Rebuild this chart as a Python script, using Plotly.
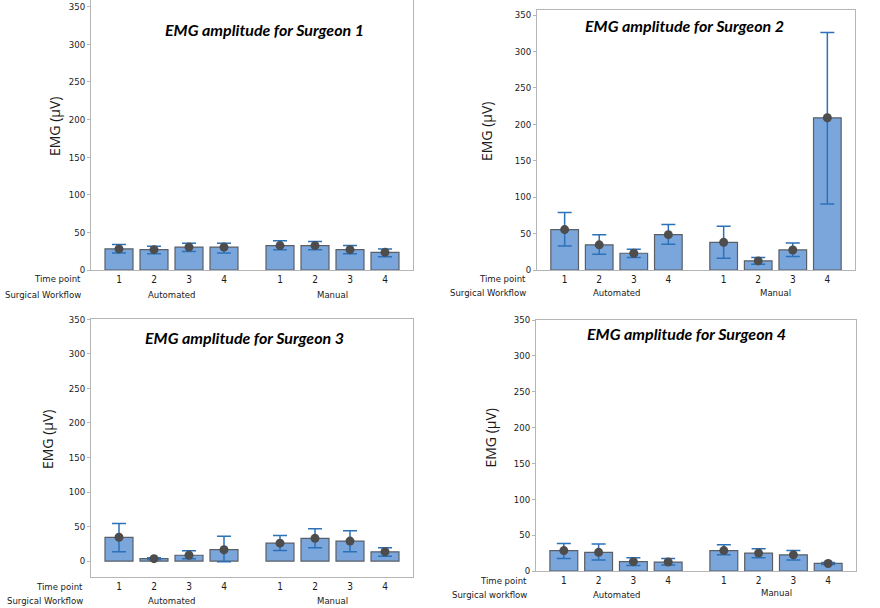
import plotly.graph_objects as go

W, H = 880, 608

workflows = ["Automated", "Manual"]
time_points = ["1", "2", "3", "4"]
y_ticks = [0, 50, 100, 150, 200, 250, 300, 350]

# mean EMG (µV) per surgeon: Automated 1-4, Manual 1-4
s1_mean = [28, 27, 30.5, 30.5, 32.5, 32.5, 27, 23.5]
s1_hi = [34, 31.5, 35.5, 35.5, 39, 38, 32.5, 28]
s1_lo = [22.5, 21.5, 24.5, 22.5, 27, 27, 21.5, 17.5]

s2_mean = [55.5, 34.5, 23, 48.5, 38, 12.5, 27.5, 209]
s2_hi = [79, 48.5, 28.5, 62.5, 60, 17, 37, 326]
s2_lo = [33, 21.5, 17, 35.5, 16, 8, 18.5, 90.5]

s3_mean = [34.5, 3.5, 8.5, 16.5, 26, 33, 29, 13.5]
s3_hi = [54.5, 5, 15, 36, 37, 47, 44, 19.5]
s3_lo = [13.5, 2.5, 3.5, -1, 15.5, 19.5, 13.5, 7]

s4_mean = [28.5, 26, 13, 12.5, 28.5, 25, 22.5, 10.5]
s4_hi = [38.5, 37.5, 18.5, 17.5, 36.5, 31, 28.5, 12]
s4_lo = [17.5, 15.5, 7.5, 8.5, 22.5, 18.5, 15.5, 9]

titles = ["EMG amplitude for Surgeon 1", "EMG amplitude for Surgeon 2",
          "EMG amplitude for Surgeon 3", "EMG amplitude for Surgeon 4"]
workflow_labels = ["Surgical Workflow", "Surgical Workflow", "Surgical Workflow", "Surgical workflow"]

series = [(s1_mean, s1_hi, s1_lo), (s2_mean, s2_hi, s2_lo),
          (s3_mean, s3_hi, s3_lo), (s4_mean, s4_hi, s4_lo)]

# layout geometry (pixels): plot area x0, x1, ytop, ybot, y-range
panels = [
    dict(x0=91, x1=413, yt=0, yb=270, yr=[0, 359], title=(264, 29), ylab=55, rowlab=83, tp=278, wf=294, grp=294),
    dict(x0=537, x1=855, yt=10, yb=270, yr=[0, 357], title=(684, 25), ylab=487, rowlab=528, tp=278, wf=292, grp=292),
    dict(x0=91, x1=413, yt=319, yb=577, yr=[-23, 350.5], title=(244, 337), ylab=47, rowlab=85, tp=586, wf=600, grp=600),
    dict(x0=536, x1=856, yt=320, yb=571, yr=[0, 350], title=(686, 333), ylab=490, rowlab=529, tp=580, wf=594, grp=594),
]

GAP = 0.6
xpos = [g * (len(time_points) + GAP) + t for g in range(len(workflows)) for t in range(len(time_points))]
xticktext = time_points * len(workflows)
group_centers = [g * (len(time_points) + GAP) + (len(time_points) - 1) / 2 for g in range(len(workflows))]

BAR_FILL = "#7BA6DC"
BAR_LINE = "#5a5f66"
ERR_COL = "#2B72B8"
DOT_COL = "#4d4d4d"
TXT = "#1a1a1a"
FRAME = "#b5b5b5"
SMALL_FONT = "DejaVu Sans Condensed, Lato"
SMALL = 9.5

fig = go.Figure()
annotations = []

def px(x):
    return x / W

def py(y):
    return 1 - y / H

for i, (p, (mean, hi, lo)) in enumerate(zip(panels, series)):
    n = "" if i == 0 else str(i + 1)
    xa, ya = "x" + n, "y" + n
    err_plus = [h - m for h, m in zip(hi, mean)]
    err_minus = [m - l for l, m in zip(lo, mean)]
    fig.add_trace(go.Bar(
        x=xpos, y=mean, xaxis=xa, yaxis=ya, width=0.8,
        marker=dict(color=BAR_FILL, line=dict(color=BAR_LINE, width=1.2)),
        showlegend=False, hoverinfo="skip"))
    fig.add_trace(go.Scatter(
        x=xpos, y=mean, xaxis=xa, yaxis=ya, mode="markers",
        marker=dict(color=DOT_COL, size=9),
        error_y=dict(type="data", symmetric=False, array=err_plus, arrayminus=err_minus,
                     color=ERR_COL, thickness=1.5, width=7),
        showlegend=False))
    axis_x = dict(domain=[px(p["x0"]), px(p["x1"])], range=[-0.8, 8.4], automargin=False,
                  tickvals=xpos, ticktext=xticktext, ticks="", showgrid=False, zeroline=False,
                  showline=True, linecolor=FRAME, linewidth=1, mirror=True,
                  tickfont=dict(family=SMALL_FONT, size=SMALL + 0.5, color=TXT), anchor=ya, fixedrange=True)
    axis_y = dict(domain=[py(p["yb"]), py(p["yt"])], range=p["yr"], tickvals=y_ticks, automargin=False,
                  ticks="outside", ticklen=3, tickcolor=FRAME, showgrid=False, zeroline=False,
                  showline=True, linecolor=FRAME, linewidth=1, mirror=True,
                  tickfont=dict(family=SMALL_FONT, size=SMALL, color=TXT), anchor=xa, fixedrange=True)
    fig.update_layout(**{"xaxis" + n: axis_x, "yaxis" + n: axis_y})

    annotations.append(dict(text="<b><i>" + titles[i] + "</i></b>", x=px(p["title"][0]), y=py(p["title"][1]),
                            xref="paper", yref="paper", showarrow=False, xanchor="center", yanchor="middle",
                            font=dict(family="Lato", size=16, color="#000000")))
    annotations.append(dict(text="EMG (µV)", x=px(p["ylab"]), y=py((p["yt"] + p["yb"]) / 2 - 8),
                            xref="paper", yref="paper", showarrow=False, textangle=-90,
                            xanchor="center", yanchor="middle",
                            font=dict(family="Open Sans", size=14, color=TXT)))
    annotations.append(dict(text="Time point", x=px(p["rowlab"]), y=py(p["tp"]), xref="paper", yref="paper",
                            showarrow=False, xanchor="right", yanchor="middle",
                            font=dict(family=SMALL_FONT, size=SMALL, color=TXT)))
    annotations.append(dict(text=workflow_labels[i], x=px(p["rowlab"]), y=py(p["wf"]), xref="paper", yref="paper",
                            showarrow=False, xanchor="right", yanchor="middle",
                            font=dict(family=SMALL_FONT, size=SMALL, color=TXT)))
    for g, wname in enumerate(workflows):
        gy = p["grp"] - (2 if (i == 3 and g == 1) else 0)
        annotations.append(dict(text=wname, x=group_centers[g], y=py(gy), xref=xa, yref="paper",
                                showarrow=False, xanchor="center", yanchor="middle",
                                font=dict(family=SMALL_FONT, size=SMALL, color=TXT)))

fig.update_layout(width=W, height=H, margin=dict(l=0, r=0, t=0, b=0, pad=0),
                  paper_bgcolor="white", plot_bgcolor="white", annotations=annotations,
                  bargap=0, hovermode=False)

# remove the browser's default 8px body margin so the figure fills the window exactly
fig.write_html("out.html", config={"displayModeBar": False, "staticPlot": True},
               post_script="document.body.style.margin='0';")
